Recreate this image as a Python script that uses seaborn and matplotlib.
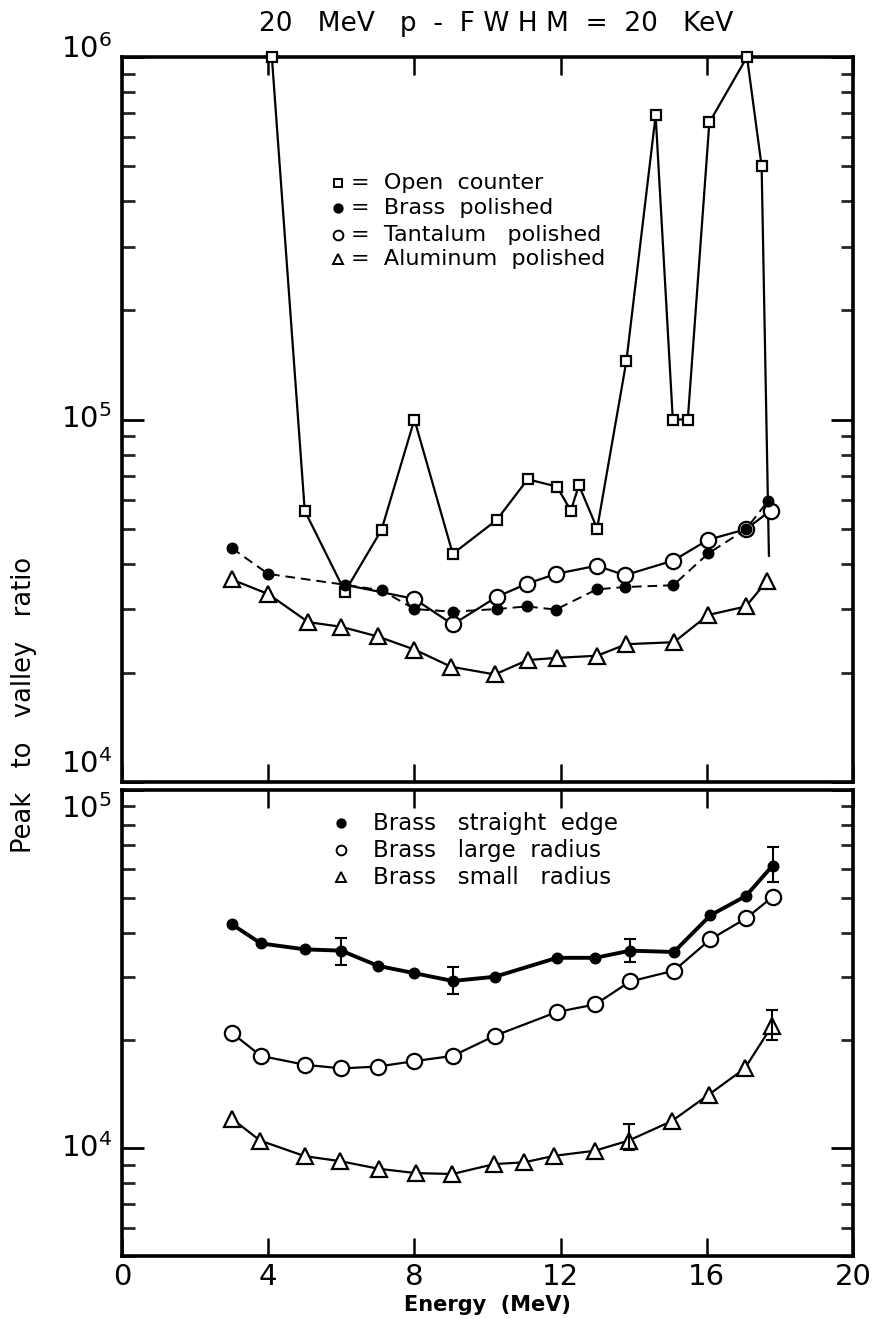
import numpy as np
import pandas as pd
import matplotlib
matplotlib.use("Agg")
import matplotlib.pyplot as plt
import matplotlib.transforms as mtrans
import seaborn as sns
from matplotlib.ticker import LogLocator, NullFormatter, FixedLocator

# ---------------- data ----------------
# Top panel
open_x = [4.1, 5.0, 6.1, 7.1, 8.0, 9.05, 10.25, 11.1, 11.9, 12.28, 12.5, 13.0, 13.8, 14.6, 15.07, 15.48, 16.07, 17.1, 17.5, 17.7]
open_y = [1.0e6, 5.6e4, 3.35e4, 4.96e4, 1.0e5, 4.26e4, 5.28e4, 6.84e4, 6.53e4, 5.6e4, 6.59e4, 5.0e4, 1.45e5, 6.9e5, 1.0e5, 1.0e5, 6.6e5, 1.0e6, 5.0e5, 4.2e4]

brass_pol_x = [3.0, 4.0, 6.1, 7.1, 8.0, 9.05, 10.25, 11.07, 11.87, 12.99, 13.76, 15.08, 16.04, 17.07, 17.68]
brass_pol_y = [4.42e4, 3.75e4, 3.5e4, 3.38e4, 3.0e4, 2.95e4, 3.0e4, 3.05e4, 2.99e4, 3.4e4, 3.45e4, 3.49e4, 4.27e4, 4.98e4, 5.97e4]

tant_x = [6.1, 8.0, 9.05, 10.25, 11.07, 11.87, 12.99, 13.76, 15.08, 16.04, 17.07, 17.75]
tant_y = [3.5e4, 3.2e4, 2.72e4, 3.24e4, 3.52e4, 3.75e4, 3.95e4, 3.72e4, 4.08e4, 4.66e4, 4.98e4, 5.61e4]

alum_x = [3.0, 4.0, 5.1, 6.0, 7.0, 8.0, 9.0, 10.2, 11.1, 11.9, 13.0, 13.8, 15.1, 16.04, 17.07, 17.64]
alum_y = [3.62e4, 3.3e4, 2.76e4, 2.68e4, 2.52e4, 2.32e4, 2.08e4, 1.98e4, 2.17e4, 2.2e4, 2.23e4, 2.4e4, 2.43e4, 2.89e4, 3.05e4, 3.58e4]

# Bottom panel
bx = [3.0, 3.8, 5.0, 6.0, 7.0, 8.0, 9.05, 10.2, 11.9, 12.95, 13.9, 15.1, 16.1, 17.07, 17.8]
straight_y = [4.22e4, 3.73e4, 3.59e4, 3.56e4, 3.23e4, 3.08e4, 2.93e4, 3.01e4, 3.40e4, 3.40e4, 3.56e4, 3.53e4, 4.47e4, 5.06e4, 6.15e4]
large_y = [2.10e4, 1.81e4, 1.71e4, 1.67e4, 1.69e4, 1.75e4, 1.81e4, 2.06e4, 2.40e4, 2.52e4, 2.92e4, 3.13e4, 3.83e4, 4.38e4, 5.03e4]
sx = [3.0, 3.78, 5.0, 5.97, 7.02, 8.04, 9.04, 10.19, 11.0, 11.83, 12.94, 13.86, 15.04, 16.05, 17.04, 17.79]
small_y = [1.21e4, 1.05e4, 9.5e3, 9.2e3, 8.76e3, 8.52e3, 8.47e3, 9.03e3, 9.13e3, 9.52e3, 9.84e3, 1.05e4, 1.19e4, 1.41e4, 1.67e4, 2.20e4]

# error bars (x, low, high)
straight_err_x = [6.0, 9.05, 13.9, 17.8]
straight_err_lo = [3.24e4, 2.70e4, 3.30e4, 5.52e4]
straight_err_hi = [3.87e4, 3.21e4, 3.83e4, 6.95e4]
small_err_x = [13.86, 17.79]
small_err_lo = [9.9e3, 2.0e4]
small_err_hi = [1.17e4, 2.43e4]

legend_top = ["=  Open  counter", "=  Brass  polished", "=  Tantalum   polished", "=  Aluminum  polished"]
legend_bot = ["Brass   straight  edge", "Brass   large  radius", "Brass   small   radius"]
title = "20   MeV   p  -  F W H M  =  20   KeV"
xticks = [0, 4, 8, 12, 16, 20]
top_decades = [1e4, 1e5, 1e6]
bot_decades = [1e4, 1e5]

# ---------------- figure ----------------
sns.set_theme(style="white")
plt.rcParams['font.family'] = ['DejaVu Sans']
plt.rcParams['mathtext.default'] = 'regular'

W, H = 872, 1319
fig = plt.figure(figsize=(W / 100, H / 100), dpi=100)
L, R = 122 / W, 853 / W
ax1 = fig.add_axes([L, 1 - 782 / H, R - L, (782 - 57) / H])
ax2 = fig.add_axes([L, 1 - 1256 / H, R - L, (1256 - 790) / H])

K = 'black'
lw = 1.6

def line(ax, x, y, marker, ms, mfc, ls='-', lwid=lw, markevery=None, z=3):
    df = pd.DataFrame({'x': x, 'y': y})
    sns.lineplot(data=df, x='x', y='y', ax=ax, sort=False, estimator=None,
                 color=K, linestyle=ls, linewidth=lwid, marker=marker,
                 markersize=ms, markerfacecolor=mfc, markeredgecolor=K,
                 markeredgewidth=1.6, markevery=markevery, clip_on=False,
                 zorder=z, legend=False)

# top panel
line(ax1, open_x, open_y, 's', 7, 'white', markevery=list(range(len(open_x) - 1)), z=3)
line(ax1, brass_pol_x, brass_pol_y, 'o', 7, K, ls=(0, (5, 3)), lwid=1.4, z=5)
line(ax1, tant_x, tant_y, 'o', 11, 'white', markevery=list(range(1, len(tant_x))), z=4)
line(ax1, alum_x, alum_y, '^', 11, 'white', z=4)

# bottom panel
line(ax2, bx, straight_y, 'o', 7, K, lwid=2.8, z=5)
line(ax2, bx, large_y, 'o', 11, 'white', z=4)
line(ax2, sx, small_y, '^', 11, 'white', z=4)

def errs(ax, x, lo, hi):
    for xi, l, h in zip(x, lo, hi):
        c = np.sqrt(l * h)
        ax.errorbar([xi], [c], yerr=[[c - l], [h - c]],
                    fmt='none', ecolor=K, elinewidth=1.5, capsize=4, capthick=1.5, zorder=6)

errs(ax2, straight_err_x, straight_err_lo, straight_err_hi)
errs(ax2, small_err_x, small_err_lo, small_err_hi)

# axes styling
for ax, ylo, yhi in [(ax1, 1e4, 1e6), (ax2, 5e3, 1e5)]:
    ax.set_yscale('log')
    ax.set_xlim(0, 20)
    ax.set_ylim(ylo, yhi)
    ax.set_xlabel('')
    ax.set_ylabel('')
    for s in ax.spines.values():
        s.set_linewidth(2.6)
        s.set_color(K)
        s.set_visible(True)
    ax.yaxis.set_major_locator(LogLocator(base=10))
    ax.yaxis.set_minor_locator(LogLocator(base=10, subs=np.arange(2, 10)))
    ax.yaxis.set_minor_formatter(NullFormatter())
    ax.tick_params(axis='y', which='major', direction='in', length=16, width=2,
                   left=True, right=True, labelleft=False, colors=K)
    ax.tick_params(axis='y', which='minor', direction='in', length=9, width=2,
                   left=True, right=True)
    ax.tick_params(axis='x', which='major', direction='in', length=13, width=1.8,
                   top=True, bottom=True, labelsize=21, pad=5, colors=K)
    ax.tick_params(axis='x', which='minor', bottom=False, top=False)
    ax.grid(False)
    ax.set_facecolor('white')

ax1.xaxis.set_major_locator(FixedLocator(xticks))
ax1.set_xticklabels([])
ax2.xaxis.set_major_locator(FixedLocator(xticks))
ax2.set_xticklabels([str(t) for t in xticks])

# decade labels on the y axes (placed by hand so the two panels do not collide)
def ylab(ax, val, va, dy):
    tr = mtrans.blended_transform_factory(ax.transAxes, ax.transData)
    tr = tr + mtrans.ScaledTranslation(-10 / 100, dy / 100, fig.dpi_scale_trans)
    ax.text(0, val, r'$\mathregular{10^{%d}}$' % int(round(np.log10(val))),
            transform=tr, ha='right', va=va, fontsize=21, color=K)

ylab(ax1, top_decades[2], 'center', 8)
ylab(ax1, top_decades[1], 'center', 0)
ylab(ax1, top_decades[0], 'bottom', 3)
ylab(ax2, bot_decades[1], 'top', -4)
ylab(ax2, bot_decades[0], 'center', 0)

# legends (drawn as markers + text, axes coordinates)
top_rows = [0.826, 0.792, 0.755, 0.721]
top_mk = [('s', 6, 'white'), ('o', 6, K), ('o', 7, 'white'), ('^', 7, 'white')]
for yy, (m, ms, fc), t in zip(top_rows, top_mk, legend_top):
    ax1.plot([0.295], [yy], marker=m, ms=ms, mfc=fc, mec=K, mew=1.4,
             transform=ax1.transAxes, linestyle='none')
    ax1.text(0.313, yy, t, transform=ax1.transAxes, fontsize=16,
             va='center', ha='left', color=K)

bot_rows = [0.929, 0.871, 0.813]
bot_mk = [('o', 6, K), ('o', 7, 'white'), ('^', 7, 'white')]
for yy, (m, ms, fc), t in zip(bot_rows, bot_mk, legend_bot):
    ax2.plot([0.30], [yy], marker=m, ms=ms, mfc=fc, mec=K, mew=1.4,
             transform=ax2.transAxes, linestyle='none')
    ax2.text(0.343, yy, t, transform=ax2.transAxes, fontsize=16.5,
             va='center', ha='left', color=K)

fig.text(0.5 * (L + R) + 0.01, 1 - 24 / H, title, ha='center', va='center', fontsize=19, color=K)
fig.text(0.5 * (L + R), 1 - 1305 / H, "Energy  (MeV)", ha='center', va='center',
         fontsize=15, fontweight='bold', color=K)
fig.text(24 / W, 1 - 705 / H, "Peak   to   valley   ratio", rotation=90, ha='center',
         va='center', fontsize=18.5, color=K)

fig.savefig("out.png", dpi=100, facecolor='white')
